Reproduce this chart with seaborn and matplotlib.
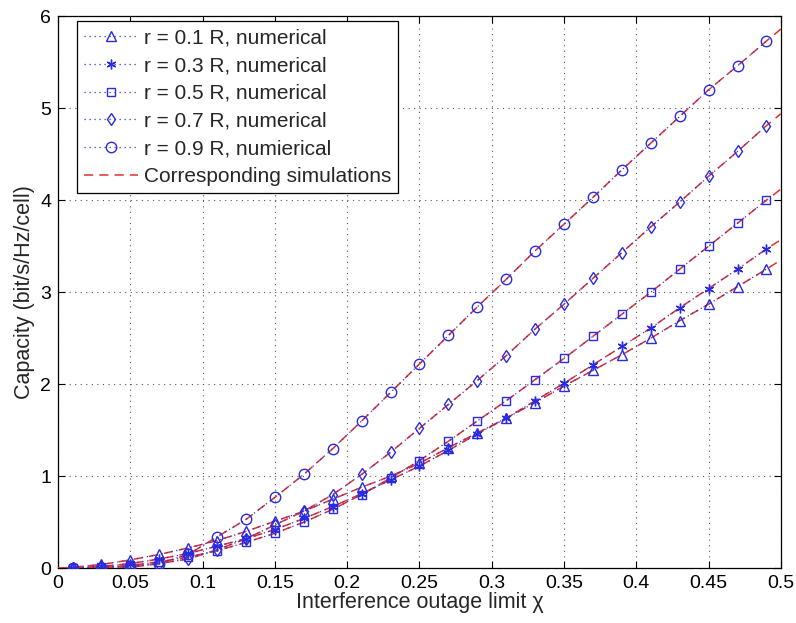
import matplotlib
matplotlib.use('Agg')
import matplotlib.pyplot as plt
import seaborn as sns
from matplotlib.lines import Line2D

# Marker positions for the numerical results
chi = [0.01, 0.03, 0.05, 0.07, 0.09, 0.11, 0.13, 0.15, 0.17, 0.19, 0.21, 0.23, 0.25,
       0.27, 0.29, 0.31, 0.33, 0.35, 0.37, 0.39, 0.41, 0.43, 0.45, 0.47, 0.49]

r01 = [0.01, 0.04, 0.09, 0.15, 0.22, 0.30, 0.40, 0.51, 0.62, 0.75, 0.88, 1.00, 1.14,
       1.31, 1.47, 1.63, 1.80, 1.98, 2.15, 2.32, 2.50, 2.69, 2.87, 3.06, 3.25]
r03 = [0.005, 0.02, 0.05, 0.10, 0.16, 0.24, 0.32, 0.42, 0.54, 0.67, 0.81, 0.96, 1.11,
       1.28, 1.46, 1.63, 1.82, 2.01, 2.21, 2.41, 2.61, 2.83, 3.04, 3.25, 3.47]
r05 = [0.0, 0.01, 0.03, 0.07, 0.12, 0.19, 0.28, 0.38, 0.50, 0.64, 0.80, 0.98, 1.17,
       1.38, 1.60, 1.82, 2.05, 2.28, 2.52, 2.76, 3.00, 3.25, 3.50, 3.75, 4.00]
r07 = [0.0, 0.01, 0.02, 0.05, 0.10, 0.20, 0.32, 0.47, 0.62, 0.80, 1.02, 1.26, 1.52,
       1.78, 2.04, 2.31, 2.60, 2.87, 3.15, 3.43, 3.71, 3.98, 4.26, 4.53, 4.81]
r09 = [0.0, 0.0, 0.01, 0.05, 0.15, 0.34, 0.53, 0.77, 1.02, 1.30, 1.60, 1.91, 2.22,
       2.53, 2.84, 3.14, 3.45, 3.74, 4.03, 4.33, 4.62, 4.91, 5.20, 5.46, 5.73]

# Simulation curves (run across the full axis)
chi_sim = [0.0] + chi + [0.5]
sim01 = [0.0] + r01 + [3.35]
sim03 = [0.0] + r03 + [3.57]
sim05 = [0.0] + r05 + [4.12]
sim07 = [0.0] + r07 + [4.94]
sim09 = [0.0] + r09 + [5.86]

labels = ['r = 0.1 R, numerical', 'r = 0.3 R, numerical', 'r = 0.5 R, numerical',
          'r = 0.7 R, numerical', 'r = 0.9 R, numierical']
sim_label = 'Corresponding simulations'
xtick_labels = ['0', '0.05', '0.1', '0.15', '0.2', '0.25', '0.3', '0.35', '0.4', '0.45', '0.5']

numerical = [r01, r03, r05, r07, r09]
simulated = [sim01, sim03, sim05, sim07, sim09]
markers = ['^', (6, 2, 0), 's', 'd', 'o']
msizes = [7, 7, 5.5, 6.5, 7.5]

sns.set_style('white')
plt.rcParams['font.family'] = ['Liberation Sans', 'DejaVu Sans']

fig = plt.figure(figsize=(7.96, 6.23), dpi=100)
ax = fig.add_axes([0.073, 0.088, 0.908, 0.886])

# red dashed simulation curves
for sim in simulated:
    sns.lineplot(x=chi_sim, y=sim, ax=ax, color='#e3312b', linestyle=(0, (6, 4)),
                 linewidth=1.1, zorder=3)

# blue dotted numerical curves with hollow markers
for vals, m, ms in zip(numerical, markers, msizes):
    sns.lineplot(x=chi, y=vals, ax=ax, color='#3333dd', linestyle=(0, (1, 3)),
                 linewidth=0.9, marker=m, markersize=ms, markerfacecolor='none',
                 markeredgecolor='#2a2ae0', markeredgewidth=1.0, zorder=4)

ax.set_xlim(0, 0.5)
ax.set_ylim(0, 6)
ax.set_xticks([float(t) for t in xtick_labels])
ax.set_xticklabels(xtick_labels)
ax.set_yticks([0, 1, 2, 3, 4, 5, 6])
ax.grid(True, color='#555555', linestyle=(0, (1, 4)), linewidth=0.8)
ax.tick_params(direction='in', length=5, width=0.8, labelsize=14, colors='black',
               top=True, right=True, bottom=True, left=True, pad=5)
for s in ax.spines.values():
    s.set_color('black')
    s.set_linewidth(0.9)

ax.set_xlabel('Interference outage limit χ', fontsize=15.5, labelpad=0)
ax.set_ylabel('Capacity (bit/s/Hz/cell)', fontsize=15.5, labelpad=4)

handles = []
for m, ms, lab in zip(markers, msizes, labels):
    handles.append(Line2D([], [], color='#3333dd', linestyle=(0, (1, 3)), linewidth=0.9,
                          marker=m, markersize=ms, markerfacecolor='none',
                          markeredgecolor='#2a2ae0', label=lab))
handles.append(Line2D([], [], color='#e3312b', linestyle=(0, (6, 4)), linewidth=1.1,
                      label=sim_label))
leg = ax.legend(handles=handles, loc='upper left', bbox_to_anchor=(0.026, 0.991),
                fontsize=15, frameon=True, fancybox=False, framealpha=1,
                edgecolor='black', handlelength=2.6, handletextpad=0.25,
                labelspacing=0.42, borderpad=0.35, borderaxespad=0)
leg.get_frame().set_linewidth(0.9)

fig.savefig('out.png', dpi=100)
